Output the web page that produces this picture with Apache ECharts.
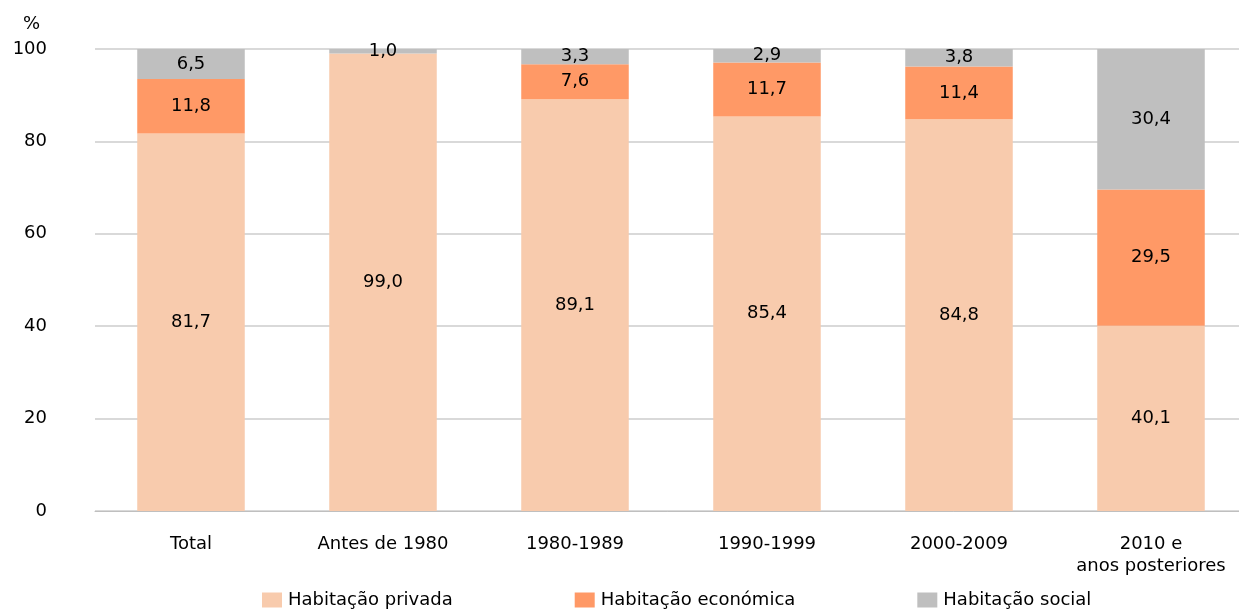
<!DOCTYPE html>
<html>
<head>
<meta charset="utf-8">
<script src="https://cdn.jsdelivr.net/npm/echarts@6/dist/echarts.min.js"></script>
<style>
  html, body { margin: 0; padding: 0; background: #fff; }
  #chart { width: 1239px; height: 610px; }
</style>
</head>
<body>
<div id="chart"></div>
<script>
// dados por período de construção
const categorias = ['Total', 'Antes de 1980', '1980-1989', '1990-1999', '2000-2009', '2010 e\nanos posteriores'];
const privada = [81.7, 99.0, 89.1, 85.4, 84.8, 40.1];
const economica = [11.8, null, 7.6, 11.7, 11.4, 29.5];
const social = [6.5, 1.0, 3.3, 2.9, 3.8, 30.4];
const yTicks = [0, 20, 40, 60, 80, 100];

var chart = echarts.init(document.getElementById('chart'));

const fonte = 'DejaVu Sans, Arial, sans-serif';
const rotulo = {
    show: true,
    position: 'inside',
    color: '#000',
    fontFamily: fonte,
    fontSize: 18,
    formatter: p => p.value == null ? '' : p.value.toFixed(1).replace('.', ',')
};

var option = {
    animation: false,
    textStyle: { fontFamily: fonte },
    grid: { left: 95, width: 1152, top: 49, bottom: 99, outerBoundsMode: 'none' },
    legend: {
        bottom: 1,
        left: 262,
        padding: 0,
        itemWidth: 20,
        itemHeight: 15,
        itemGap: 122,
        icon: 'rect',
        textStyle: { fontSize: 18, color: '#000', fontFamily: fonte, padding: [0, 0, 0, 1] },
        data: ['Habitação privada', 'Habitação económica', 'Habitação social']
    },
    xAxis: {
        type: 'category',
        data: categorias,
        axisTick: { show: false },
        axisLine: { lineStyle: { color: '#bfbfbf' } },
        axisLabel: { color: '#000', fontSize: 18, margin: 22, lineHeight: 22, interval: 0, fontFamily: fonte }
    },
    yAxis: {
        type: 'value',
        min: 0,
        max: 100,
        interval: 20,
        name: '%',
        nameGap: 16,
        nameTextStyle: { color: '#000', fontSize: 18, align: 'right', padding: [0, 55, 0, 0], fontFamily: fonte },
        axisLabel: {
            color: '#000', fontSize: 18, margin: 48, fontFamily: fonte,
            formatter: v => yTicks.includes(v) ? String(v) : ''
        },
        splitLine: { lineStyle: { color: '#d9d9d9', width: 2 } }
    },
    series: [
        { name: 'Habitação privada', type: 'bar', stack: 'a', barWidth: '56%', data: privada, itemStyle: { color: '#f8cbad' }, label: rotulo },
        { name: 'Habitação económica', type: 'bar', stack: 'a', data: economica, itemStyle: { color: '#ff9966' }, label: rotulo },
        { name: 'Habitação social', type: 'bar', stack: 'a', data: social, itemStyle: { color: '#bfbfbf' }, label: rotulo }
    ]
};

chart.setOption(option);
window.addEventListener('resize', chart.resize);
</script>
</body>
</html>
